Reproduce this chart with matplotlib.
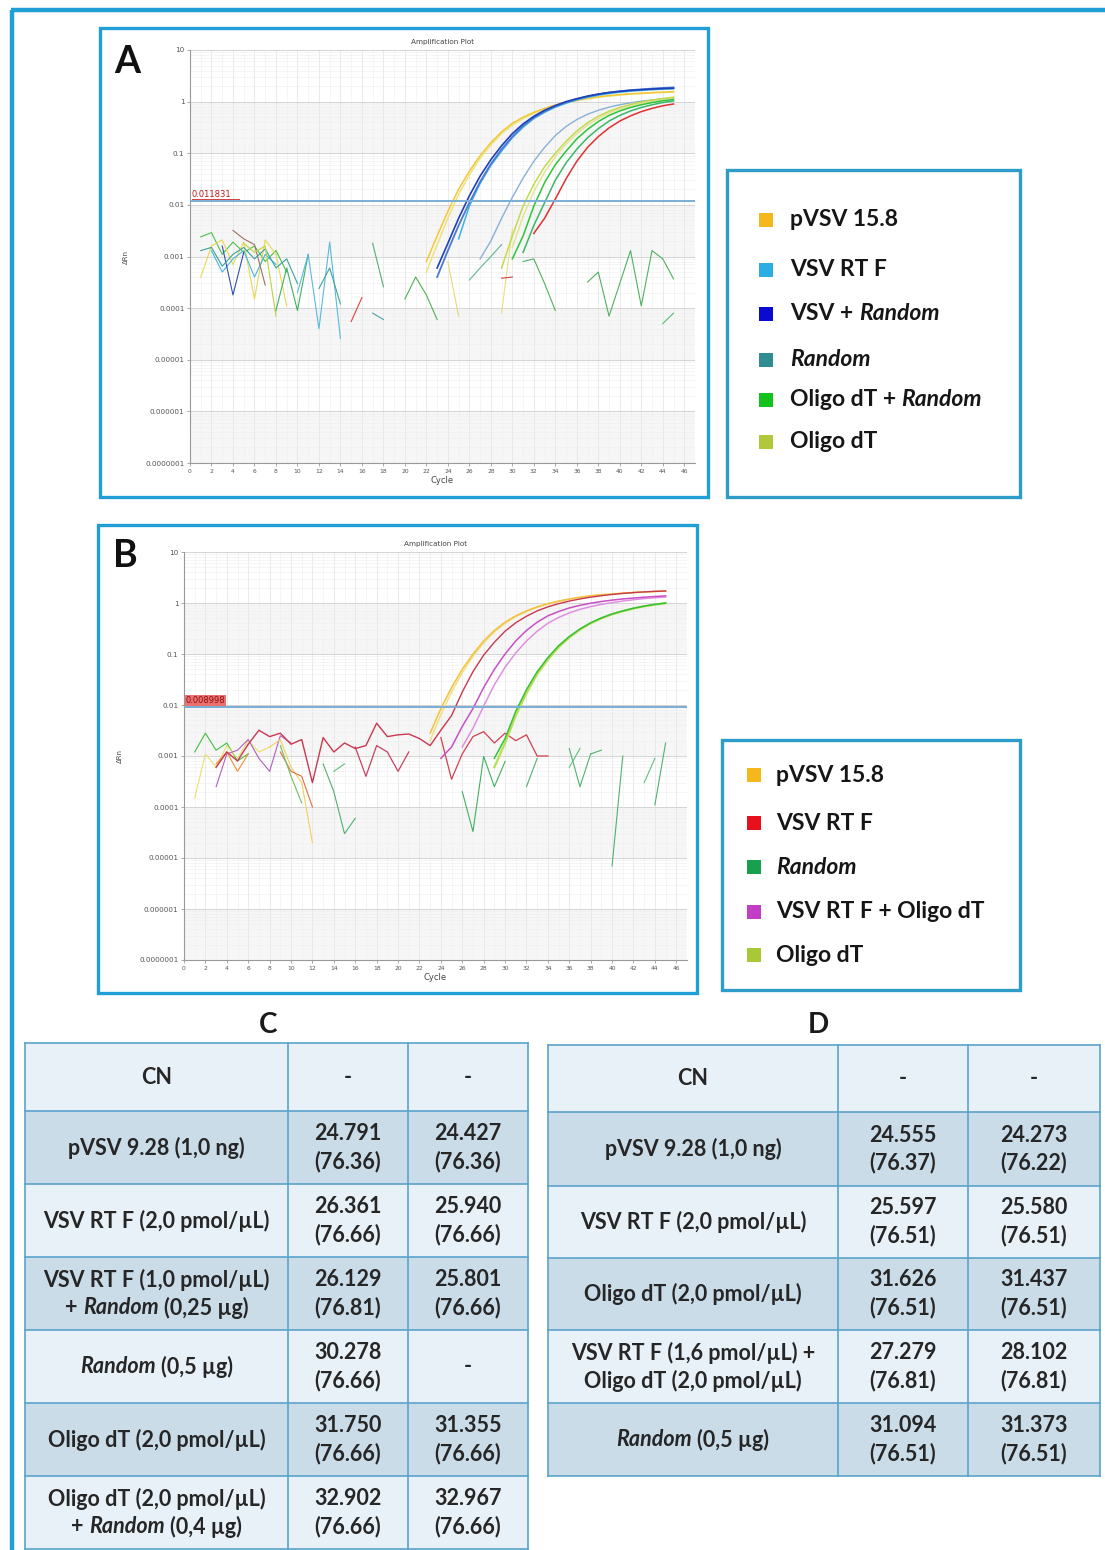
import matplotlib
matplotlib.use('Agg')
import matplotlib.pyplot as plt
import numpy as np
from matplotlib.patches import Rectangle

W, H = 1105, 1550
plt.rcParams['font.family'] = ['Lato', 'DejaVu Sans']

# ---------------- Panel A data (Delta Rn per cycle) ----------------
A_threshold = 0.011831
A_pvsv1_cyc = list(range(22, 46))
A_pvsv1 = [0.0008, 0.0025, 0.0075, 0.02, 0.045, 0.09, 0.16, 0.26, 0.38, 0.5, 0.62, 0.74,
           0.86, 0.97, 1.07, 1.16, 1.24, 1.31, 1.37, 1.42, 1.46, 1.5, 1.53, 1.56]
A_pvsv2_cyc = list(range(22, 46))
A_pvsv2 = [0.0005, 0.0017, 0.0055, 0.016, 0.038, 0.08, 0.145, 0.24, 0.35, 0.47, 0.59, 0.71,
           0.83, 0.94, 1.04, 1.13, 1.21, 1.28, 1.34, 1.39, 1.43, 1.47, 1.5, 1.53]
A_vsvrand1_cyc = list(range(23, 46))
A_vsvrand1 = [0.0006, 0.0018, 0.0055, 0.015, 0.036, 0.075, 0.14, 0.24, 0.37, 0.52, 0.68, 0.84,
              1.0, 1.14, 1.28, 1.4, 1.5, 1.58, 1.65, 1.7, 1.75, 1.79, 1.82]
A_vsvrand2_cyc = list(range(23, 46))
A_vsvrand2 = [0.0004, 0.0013, 0.004, 0.011, 0.028, 0.062, 0.12, 0.21, 0.34, 0.49, 0.65, 0.81,
              0.97, 1.12, 1.26, 1.39, 1.5, 1.59, 1.67, 1.73, 1.79, 1.84, 1.88]
A_vsvrt_cyc = list(range(25, 46))
A_vsvrt = [0.0022, 0.0095, 0.026, 0.058, 0.11, 0.2, 0.32, 0.47, 0.62, 0.78, 0.93, 1.08,
           1.21, 1.33, 1.43, 1.52, 1.59, 1.65, 1.7, 1.74, 1.77]
A_random_cyc = list(range(27, 46))
A_random = [0.0009, 0.002, 0.0055, 0.014, 0.033, 0.07, 0.13, 0.22, 0.33, 0.45, 0.57, 0.68,
            0.78, 0.87, 0.95, 1.02, 1.08, 1.13, 1.17]
A_oligo1_cyc = list(range(29, 46))
A_oligo1 = [0.0006, 0.0025, 0.0095, 0.025, 0.055, 0.1, 0.17, 0.27, 0.39, 0.52, 0.65, 0.77,
            0.88, 0.98, 1.07, 1.15, 1.22]
A_oligo2_cyc = list(range(30, 46))
A_oligo2 = [0.0015, 0.006, 0.018, 0.043, 0.085, 0.15, 0.24, 0.35, 0.47, 0.6, 0.72, 0.83,
            0.93, 1.02, 1.1, 1.17]
A_olrand1_cyc = list(range(30, 46))
A_olrand1 = [0.0009, 0.0025, 0.0095, 0.027, 0.06, 0.11, 0.19, 0.29, 0.41, 0.54, 0.66, 0.77,
             0.87, 0.96, 1.04, 1.1]
A_olrand2_cyc = list(range(31, 46))
A_olrand2 = [0.0012, 0.004, 0.011, 0.03, 0.065, 0.12, 0.2, 0.3, 0.42, 0.54, 0.66, 0.77,
             0.87, 0.96, 1.03]
A_red_cyc = list(range(32, 46))
A_red = [0.0028, 0.0055, 0.013, 0.032, 0.07, 0.13, 0.21, 0.31, 0.42, 0.53, 0.64, 0.74, 0.83, 0.9]

# baseline noise fragments, panel A
A_nz1_cyc = [1, 2, 3, 4, 5, 6, 7, 8, 9]
A_nz1 = [0.0024, 0.0029, 0.0011, 0.0019, 0.0012, 0.0016, 0.0008, 0.0013, 0.0005]
A_nz2_cyc = [1, 2, 3, 4, 5, 6, 7, 8, 9]
A_nz2 = [0.0004, 0.0016, 0.0021, 0.0007, 0.0019, 0.00015, 0.0021, 0.0011, 0.00011]
A_nz3_cyc = [2, 3, 4, 5, 6, 7, 8]
A_nz3 = [0.0013, 0.0005, 0.0009, 0.0013, 0.0004, 0.0011, 0.0007]
A_nz4_cyc = [3, 4, 5]
A_nz4 = [0.0016, 0.00018, 0.0012]
A_nz5_cyc = [4, 5, 6, 7]
A_nz5 = [0.0032, 0.0022, 0.0017, 0.00028]
A_nz6_cyc = [1, 2, 3, 4, 5, 6, 7, 8, 9, 10]
A_nz6 = [0.0013, 0.0015, 0.00065, 0.0011, 0.0015, 0.0009, 0.0014, 0.0006, 0.0009, 0.0003]
A_nz7_cyc = [5, 6, 7, 8]
A_nz7 = [0.0018, 0.0012, 0.0016, 0.00007]
A_nz8_cyc = [8, 9, 10, 11]
A_nz8 = [0.00009, 0.0006, 0.00009, 0.0011]
A_nz9_cyc = [10, 11, 12, 13, 14]
A_nz9 = [0.0002, 0.0011, 0.00004, 0.0019, 0.000026]
A_nz10_cyc = [12, 13, 14]
A_nz10 = [0.00024, 0.0006, 0.00012]
A_nz11_cyc = [15, 16]
A_nz11 = [0.000055, 0.00016]
A_nz12_cyc = [17, 18]
A_nz12 = [0.0018, 0.00026]
A_nz13_cyc = [17, 18]
A_nz13 = [0.00008, 0.00006]
A_nz14_cyc = [20, 21, 22, 23]
A_nz14 = [0.00015, 0.0004, 0.00018, 0.00006]
A_nz15_cyc = [24, 25]
A_nz15 = [0.0008, 0.00007]
A_nz16_cyc = [26, 27, 28, 29]
A_nz16 = [0.00035, 0.0006, 0.001, 0.0017]
A_nz17_cyc = [29, 30]
A_nz17 = [0.00008, 0.0034]
A_nz18_cyc = [29, 30]
A_nz18 = [0.00038, 0.0004]
A_nz19_cyc = [31, 32, 33, 34]
A_nz19 = [0.0008, 0.0009, 0.0003, 0.00009]
A_nz20_cyc = [37, 38, 39, 40, 41, 42, 43, 44, 45]
A_nz20 = [0.00032, 0.0005, 0.00007, 0.0003, 0.0013, 0.00011, 0.0013, 0.0009, 0.00037]
A_nz21_cyc = [44, 45]
A_nz21 = [0.00005, 0.00008]

# ---------------- Panel B data ----------------
B_threshold = 0.008998
B_pvsv1_cyc = list(range(23, 46))
B_pvsv1 = [0.0028, 0.0085, 0.022, 0.05, 0.1, 0.18, 0.29, 0.42, 0.56, 0.7, 0.84, 0.97, 1.09,
           1.2, 1.3, 1.39, 1.45, 1.5, 1.56, 1.61, 1.65, 1.69, 1.72]
B_pvsv2_cyc = list(range(23, 46))
B_pvsv2 = [0.002, 0.0065, 0.018, 0.043, 0.09, 0.165, 0.27, 0.4, 0.54, 0.68, 0.82, 0.95, 1.07,
           1.18, 1.28, 1.37, 1.44, 1.5, 1.55, 1.6, 1.64, 1.68, 1.71]
B_red1_cyc = list(range(3, 46))
B_red1 = [0.0006, 0.0012, 0.0008, 0.0017, 0.0032, 0.0024, 0.0028, 0.0017, 0.0021, 0.0003,
          0.0023, 0.0012, 0.0018, 0.0014, 0.0016, 0.0044, 0.0024, 0.0026, 0.0027, 0.0022,
          0.0016, 0.0032, 0.0062, 0.018, 0.045, 0.095, 0.17, 0.28, 0.41, 0.55, 0.7, 0.84,
          0.97, 1.09, 1.2, 1.3, 1.39, 1.47, 1.54, 1.6, 1.65, 1.69, 1.72]
B_red2_cyc = list(range(24, 35))
B_red2 = [0.0023, 0.00035, 0.0011, 0.0024, 0.003, 0.0018, 0.0028, 0.002, 0.0026, 0.001, 0.001]
B_red3_cyc = [16, 17, 18, 19, 20, 21]
B_red3 = [0.0015, 0.0004, 0.0016, 0.0012, 0.0005, 0.0012]
B_mag1_cyc = list(range(24, 46))
B_mag1 = [0.0009, 0.0015, 0.0038, 0.0085, 0.022, 0.05, 0.1, 0.18, 0.29, 0.42, 0.56, 0.68,
          0.8, 0.9, 0.99, 1.07, 1.14, 1.2, 1.25, 1.3, 1.34, 1.38]
B_mag2_cyc = list(range(26, 46))
B_mag2 = [0.0015, 0.0035, 0.0095, 0.025, 0.055, 0.105, 0.18, 0.28, 0.4, 0.52, 0.64, 0.75,
          0.85, 0.94, 1.02, 1.09, 1.16, 1.22, 1.27, 1.31]
B_green1_cyc = list(range(29, 46))
B_green1 = [0.0009, 0.0022, 0.0075, 0.02, 0.045, 0.085, 0.145, 0.22, 0.31, 0.41, 0.51, 0.61,
            0.7, 0.79, 0.87, 0.94, 1.0]
B_oligo_cyc = list(range(29, 46))
B_oligo = [0.0006, 0.0018, 0.0062, 0.017, 0.04, 0.078, 0.135, 0.21, 0.3, 0.4, 0.5, 0.6,
           0.69, 0.78, 0.86, 0.93, 0.99]

B_nz1_cyc = [1, 2, 3, 4, 5, 6]
B_nz1 = [0.0012, 0.0028, 0.0013, 0.0018, 0.0008, 0.0011]
B_nz2_cyc = [1, 2, 3, 4, 5, 6, 7, 8]
B_nz2 = [0.00015, 0.0011, 0.0006, 0.0016, 0.0009, 0.002, 0.0012, 0.0015]
B_nz3_cyc = [3, 4, 5, 6, 7, 8, 9, 10]
B_nz3 = [0.00025, 0.0011, 0.0013, 0.0021, 0.0009, 0.0005, 0.0025, 0.0018]
B_nz4_cyc = [3, 4, 5, 6]
B_nz4 = [0.0007, 0.0012, 0.0005, 0.0011]
B_nz5_cyc = [8, 9, 10, 11, 12]
B_nz5 = [0.0015, 0.0021, 0.0006, 0.0003, 0.00002]
B_nz6_cyc = [9, 10, 11, 12]
B_nz6 = [0.0012, 0.0005, 0.0004, 0.0001]
B_nz7_cyc = [9, 10, 11]
B_nz7 = [0.0016, 0.0004, 0.00012]
B_nz8_cyc = [13, 14, 15, 16]
B_nz8 = [0.0007, 0.0002, 0.00003, 0.00006]
B_nz9_cyc = [14, 15]
B_nz9 = [0.0005, 0.0007]
B_nz10_cyc = [26, 27, 28, 29, 30]
B_nz10 = [0.0002, 0.000033, 0.00098, 0.00025, 0.00078]
B_nz11_cyc = [32, 33]
B_nz11 = [0.00025, 0.0009]
B_nz12_cyc = [36, 37, 38]
B_nz12 = [0.0014, 0.00025, 0.0011]
B_nz13_cyc = [36, 37]
B_nz13 = [0.0006, 0.0014]
B_nz14_cyc = [38, 39]
B_nz14 = [0.0011, 0.0013]
B_nz15_cyc = [40, 41]
B_nz15 = [0.000007, 0.001]
B_nz16_cyc = [43, 44]
B_nz16 = [0.0003, 0.0009]
B_nz17_cyc = [44, 45]
B_nz17 = [0.00011, 0.0018]

# ---------------- legends ----------------
A_leg_labels = [[("pVSV 15.8", False)], [("VSV RT F", False)], [("VSV +", False), ("Random", True)],
                [("Random", True)], [("Oligo dT +", False), ("Random", True)], [("Oligo dT", False)]]
A_leg_colors = ['#f4b81c', '#2aaee3', '#0a0ad0', '#2f8c92', '#14c21e', '#b2c83c']
B_leg_labels = [[("pVSV 15.8", False)], [("VSV RT F", False)], [("Random", True)],
                [("VSV RT F + Oligo dT", False)], [("Oligo dT", False)]]
B_leg_colors = ['#f4b81c', '#e8101c', '#18a04e', '#c23ec4', '#a8c836']

# ---------------- tables ----------------
C_labels = [[[("CN", False)]],
            [[("pVSV 9.28 (1,0 ng)", False)]],
            [[("VSV RT F (2,0 pmol/µL)", False)]],
            [[("VSV RT F (1,0 pmol/µL)", False)], [("+", False), ("Random", True), ("(0,25 µg)", False)]],
            [[("Random", True), ("(0,5 µg)", False)]],
            [[("Oligo dT (2,0 pmol/µL)", False)]],
            [[("Oligo dT (2,0 pmol/µL)", False)], [("+", False), ("Random", True), ("(0,4 µg)", False)]]]
C_ct1 = [None, 24.791, 26.361, 26.129, 30.278, 31.750, 32.902]
C_tm1 = [None, 76.36, 76.66, 76.81, 76.66, 76.66, 76.66]
C_ct2 = [None, 24.427, 25.940, 25.801, None, 31.355, 32.967]
C_tm2 = [None, 76.36, 76.66, 76.66, None, 76.66, 76.66]

D_labels = [[[("CN", False)]],
            [[("pVSV 9.28 (1,0 ng)", False)]],
            [[("VSV RT F (2,0 pmol/µL)", False)]],
            [[("Oligo dT (2,0 pmol/µL)", False)]],
            [[("VSV RT F (1,6 pmol/µL) +", False)], [("Oligo dT (2,0 pmol/µL)", False)]],
            [[("Random", True), ("(0,5 µg)", False)]]]
D_ct1 = [None, 24.555, 25.597, 31.626, 27.279, 31.094]
D_tm1 = [None, 76.37, 76.51, 76.51, 76.81, 76.51]
D_ct2 = [None, 24.273, 25.580, 31.437, 28.102, 31.373]
D_tm2 = [None, 76.22, 76.51, 76.51, 76.81, 76.51]

# ====================================================================
fig = plt.figure(figsize=(W / 100, H / 100), dpi=100)
bg = fig.add_axes([0, 0, 1, 1])
bg.set_xlim(0, W)
bg.set_ylim(H, 0)
bg.axis('off')
renderer = fig.canvas.get_renderer()

FRAME = '#1f9fd6'
TXT = '#262626'

# outer border
bg.plot([12, 12], [10, H], color=FRAME, lw=3.2, solid_capstyle='butt')
bg.plot([10.5, W], [10, 10], color=FRAME, lw=3.2, solid_capstyle='butt')


def frame(x0, y0, x1, y1, color=FRAME, lw=2.4):
    bg.add_patch(Rectangle((x0, y0), x1 - x0, y1 - y0, fill=False, ec=color, lw=lw))


frame(100, 28, 708, 497)
frame(98, 525, 697, 993)
frame(727, 170, 1020, 497, color='#2e9cc8')
frame(722, 740, 1020, 990, color='#2e9cc8')

_space_cache = {}


def space_w(size, weight):
    key = (size, weight)
    if key not in _space_cache:
        t1 = bg.text(0, 0, "x x", fontsize=size, fontweight=weight)
        t2 = bg.text(0, 0, "xx", fontsize=size, fontweight=weight)
        _space_cache[key] = t1.get_window_extent(renderer).width - t2.get_window_extent(renderer).width
        t1.remove()
        t2.remove()
    return _space_cache[key]


def rich(x, y, parts, size, ha='center', color=TXT, weight='bold'):
    objs = []
    for s, it in parts:
        t = bg.text(0, y, s, fontsize=size, fontweight=weight,
                    fontstyle='italic' if it else 'normal', color=color,
                    va='center', ha='left')
        objs.append(t)
    sp = space_w(size, weight)
    widths = [t.get_window_extent(renderer).width for t in objs]
    total = sum(widths) + sp * (len(objs) - 1)
    cur = x - total / 2 if ha == 'center' else x
    for t, w in zip(objs, widths):
        t.set_x(cur)
        cur += w + sp


# panel letters
bg.text(127, 62, "A", fontsize=27, fontweight='bold', ha='center', va='center', color='#111111')
bg.text(125, 556, "B", fontsize=27, fontweight='bold', ha='center', va='center', color='#111111')
bg.text(268, 1025, "C", fontsize=20, fontweight='bold', ha='center', va='center', color='#1a1a1a')
bg.text(818, 1025, "D", fontsize=20, fontweight='bold', ha='center', va='center', color='#1a1a1a')


def plot_axes(left, right, top, bottom):
    ax = fig.add_axes([left / W, 1 - bottom / H, (right - left) / W, (bottom - top) / H])
    ax.set_yscale('log')
    ax.set_ylim(1e-7, 10)
    ax.set_xlim(0, 47)
    for k, dec in enumerate([-7, -6, -5, -4, -3, -2, -1, 0]):
        if k % 2 == 0:
            ax.axhspan(10.0 ** dec, 10.0 ** (dec + 1), color='#f6f6f6', zorder=0, lw=0)
    ax.set_xticks(range(0, 47, 2))
    ax.set_xticks(range(0, 48), minor=True)
    ax.set_yticks([1e-7, 1e-6, 1e-5, 1e-4, 1e-3, 1e-2, 1e-1, 1, 10])
    ax.set_yticklabels(['0.0000001', '0.000001', '0.00001', '0.0001', '0.001', '0.01', '0.1', '1', '10'])
    ax.grid(True, which='major', axis='y', color='#d4d4d4', lw=0.7)
    ax.grid(True, which='major', axis='x', color='#e2e2e2', lw=0.5)
    ax.grid(True, which='minor', color='#eeeeee', lw=0.4)
    ax.set_axisbelow(True)
    ax.tick_params(which='both', length=2, width=0.5, colors='#888888',
                   labelcolor='#555555', pad=2)
    ax.tick_params(axis='y', labelsize=5.2)
    ax.tick_params(axis='x', labelsize=4.3)
    ax.tick_params(which='minor', length=0)
    for s in ['top', 'right']:
        ax.spines[s].set_visible(False)
    for s in ['left', 'bottom']:
        ax.spines[s].set_color('#999999')
        ax.spines[s].set_linewidth(0.8)
    ax.set_xlabel('Cycle', fontsize=6, color='#444444', labelpad=2, family='DejaVu Sans')
    ax.set_ylabel('ΔRn', fontsize=5, color='#444444', labelpad=12, family='DejaVu Sans')
    ax.set_title('Amplification Plot', fontsize=5.2, color='#444444', pad=4, family='DejaVu Sans')
    for lab in ax.get_xticklabels() + ax.get_yticklabels():
        lab.set_family('DejaVu Sans')
    return ax


def draw(ax, cyc, vals, color, lw=1.0, z=3):
    ax.plot(cyc, np.array(vals, dtype=float), color=color, lw=lw, zorder=z, solid_joinstyle='round')


# ---------------- Panel A ----------------
axA = plot_axes(190, 695, 50, 463)
for c, v, col in [(A_nz1_cyc, A_nz1, '#4cc04c'), (A_nz2_cyc, A_nz2, '#e8d850'),
                  (A_nz3_cyc, A_nz3, '#46b4e0'), (A_nz4_cyc, A_nz4, '#3050b0'),
                  (A_nz5_cyc, A_nz5, '#a07060'), (A_nz6_cyc, A_nz6, '#3aa0a0'),
                  (A_nz7_cyc, A_nz7, '#c0d040'), (A_nz8_cyc, A_nz8, '#40b060'),
                  (A_nz9_cyc, A_nz9, '#5ab8e0'), (A_nz10_cyc, A_nz10, '#40a890'),
                  (A_nz11_cyc, A_nz11, '#e04040'), (A_nz12_cyc, A_nz12, '#50b070'),
                  (A_nz13_cyc, A_nz13, '#50a0a0'), (A_nz14_cyc, A_nz14, '#50b050'),
                  (A_nz15_cyc, A_nz15, '#e8d870'), (A_nz16_cyc, A_nz16, '#60b890'),
                  (A_nz17_cyc, A_nz17, '#e8e080'), (A_nz18_cyc, A_nz18, '#d04040'),
                  (A_nz19_cyc, A_nz19, '#50b060'), (A_nz20_cyc, A_nz20, '#50b060'),
                  (A_nz21_cyc, A_nz21, '#50c070')]:
    draw(axA, c, v, col, lw=0.8)
draw(axA, A_pvsv2_cyc, A_pvsv2, '#efe27c', 1.1)
draw(axA, A_pvsv1_cyc, A_pvsv1, '#f3c838', 1.1)
draw(axA, A_vsvrt_cyc, A_vsvrt, '#3cb2e6', 1.1)
draw(axA, A_vsvrand2_cyc, A_vsvrand2, '#4a7ad2', 1.3)
draw(axA, A_vsvrand1_cyc, A_vsvrand1, '#2040b8', 1.2)
draw(axA, A_random_cyc, A_random, '#88b0d8', 1.0)
draw(axA, A_oligo2_cyc, A_oligo2, '#e2e49a', 1.1)
draw(axA, A_oligo1_cyc, A_oligo1, '#c4da4c', 1.1)
draw(axA, A_olrand1_cyc, A_olrand1, '#2ec43a', 1.1)
draw(axA, A_olrand2_cyc, A_olrand2, '#3ab868', 1.1)
draw(axA, A_red_cyc, A_red, '#e03030', 1.1)
axA.axhline(A_threshold, color='#7aaed6', lw=1.4, zorder=4)
axA.text(0.15, A_threshold * 1.12, f"{A_threshold:.6f}", fontsize=6, color='#c01818',
         va='bottom', ha='left', zorder=5, family='DejaVu Sans')
axA.plot([0.15, 4.6], [A_threshold * 1.08, A_threshold * 1.08], color='#d04040', lw=0.7, zorder=5)

# ---------------- Panel B ----------------
axB = plot_axes(184, 687, 552, 960)
for c, v, col in [(B_nz1_cyc, B_nz1, '#40c040'), (B_nz2_cyc, B_nz2, '#e8e070'),
                  (B_nz3_cyc, B_nz3, '#b060c0'), (B_nz4_cyc, B_nz4, '#f09030'),
                  (B_nz5_cyc, B_nz5, '#f0d060'), (B_nz6_cyc, B_nz6, '#e07040'),
                  (B_nz7_cyc, B_nz7, '#70c060'), (B_nz8_cyc, B_nz8, '#50b070'),
                  (B_nz9_cyc, B_nz9, '#60c080'), (B_nz10_cyc, B_nz10, '#40b060'),
                  (B_nz11_cyc, B_nz11, '#50b070'), (B_nz12_cyc, B_nz12, '#50b070'),
                  (B_nz13_cyc, B_nz13, '#60c080'), (B_nz14_cyc, B_nz14, '#50b070'),
                  (B_nz15_cyc, B_nz15, '#50b070'), (B_nz16_cyc, B_nz16, '#60c080'),
                  (B_nz17_cyc, B_nz17, '#50b070')]:
    draw(axB, c, v, col, lw=0.8)
draw(axB, B_red3_cyc, B_red3, '#c84060', 0.9)
draw(axB, B_red2_cyc, B_red2, '#d04050', 0.9)
draw(axB, B_pvsv2_cyc, B_pvsv2, '#f0e080', 1.1)
draw(axB, B_pvsv1_cyc, B_pvsv1, '#f4c040', 1.1)
draw(axB, B_red1_cyc, B_red1, '#c83850', 1.0)
draw(axB, B_mag2_cyc, B_mag2, '#e090e0', 1.1)
draw(axB, B_mag1_cyc, B_mag1, '#c850c8', 1.1)
draw(axB, B_oligo_cyc, B_oligo, '#b8e050', 1.6)
draw(axB, B_green1_cyc, B_green1, '#34c03c', 1.1)
axB.axhline(B_threshold, color='#7aaed6', lw=1.4, zorder=4)
axB.text(0.15, B_threshold * 1.1, f"{B_threshold:.6f}", fontsize=6, color='#8a1010',
         va='bottom', ha='left', zorder=5, family='DejaVu Sans',
         bbox=dict(boxstyle='square,pad=0.1', fc='#ec7070', ec='none'))

# ---------------- legends ----------------
A_leg_y = [220, 270, 314, 360, 400, 442]
for yy, parts, col in zip(A_leg_y, A_leg_labels, A_leg_colors):
    bg.add_patch(Rectangle((759, yy - 7), 14, 14, fc=col, ec='none'))
    rich(790, yy, parts, 16.5, ha='left', color='#161616')
B_leg_y = [775, 823, 867, 912, 955]
for yy, parts, col in zip(B_leg_y, B_leg_labels, B_leg_colors):
    bg.add_patch(Rectangle((747, yy - 7), 14, 14, fc=col, ec='none'))
    rich(776, yy, parts, 16.5, ha='left', color='#161616')

# ---------------- tables ----------------
LIGHT = '#e8f1f8'
DARK = '#cbdce9'
GRID = '#5aa3cc'
TS = 15.5


def table(cols, rows, labels, ct1, tm1, ct2, tm2):
    for i in range(len(rows) - 1):
        fc = LIGHT if i % 2 == 0 else DARK
        bg.add_patch(Rectangle((cols[0], rows[i]), cols[-1] - cols[0], rows[i + 1] - rows[i],
                               fc=fc, ec='none', zorder=1))
    for x in cols:
        bg.plot([x, x], [rows[0], rows[-1]], color=GRID, lw=1.2, zorder=2)
    for y in rows:
        bg.plot([cols[0], cols[-1]], [y, y], color=GRID, lw=1.2, zorder=2)
    for i in range(len(rows) - 1):
        yc = (rows[i] + rows[i + 1]) / 2
        lines = labels[i]
        n = len(lines)
        for j, parts in enumerate(lines):
            rich((cols[0] + cols[1]) / 2, yc + (j - (n - 1) / 2) * 28, parts, TS)
        for k, (ct, tm) in enumerate([(ct1[i], tm1[i]), (ct2[i], tm2[i])]):
            xc = (cols[k + 1] + cols[k + 2]) / 2
            if ct is None:
                bg.text(xc, yc, "-", fontsize=TS, fontweight='bold', ha='center', va='center',
                        color=TXT)
            else:
                bg.text(xc, yc - 14, f"{ct:.3f}", fontsize=TS, fontweight='bold', ha='center',
                        va='center', color=TXT)
                bg.text(xc, yc + 14, f"({tm:.2f})", fontsize=TS, fontweight='bold', ha='center',
                        va='center', color=TXT)


table([25, 288, 408, 528], [1043, 1111, 1184, 1257, 1330, 1403, 1476, 1549],
      C_labels, C_ct1, C_tm1, C_ct2, C_tm2)
table([548, 838, 968, 1100], [1045, 1112, 1186, 1258, 1330, 1403, 1476],
      D_labels, D_ct1, D_tm1, D_ct2, D_tm2)

fig.savefig('out.png', dpi=100)
